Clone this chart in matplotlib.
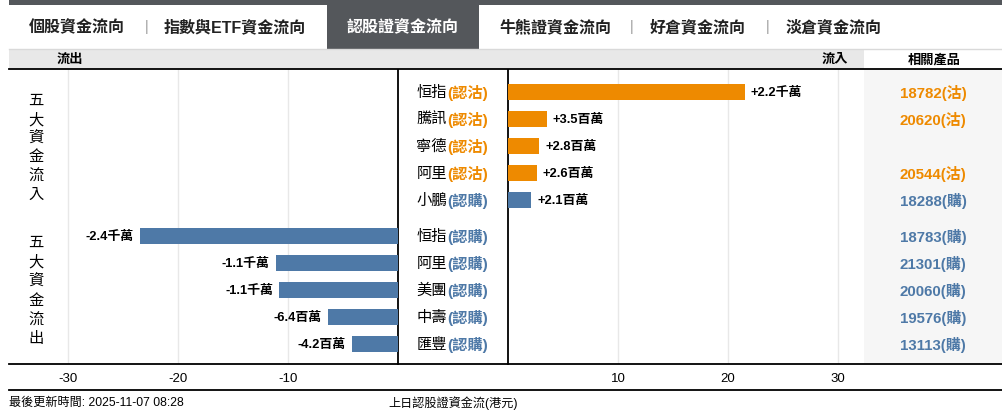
import matplotlib
matplotlib.use('Agg')
import matplotlib.pyplot as plt
from matplotlib.patches import Rectangle
from matplotlib.lines import Line2D
from matplotlib.transforms import blended_transform_factory

plt.rcParams['font.family'] = ['Liberation Sans', 'Noto Sans CJK TC']
plt.rcParams['axes.unicode_minus'] = False

# data (values in millions HKD)
in_names = ['恒指', '騰訊', '寧德', '阿里', '小鵬']
in_types = ['認沽', '認沽', '認沽', '認沽', '認購']
in_values = [21.5, 3.5, 2.8, 2.6, 2.1]
in_labels = ['+2.2千萬', '+3.5百萬', '+2.8百萬', '+2.6百萬', '+2.1百萬']
in_products = ['18782(沽)', '20620(沽)', '', '20544(沽)', '18288(購)']

out_names = ['恒指', '阿里', '美團', '中壽', '匯豐']
out_types = ['認購', '認購', '認購', '認購', '認購']
out_values = [-23.5, -11.1, -10.8, -6.4, -4.2]
out_labels = ['-2.4千萬', '-1.1千萬', '-1.1千萬', '-6.4百萬', '-4.2百萬']
out_products = ['18783(購)', '21301(購)', '20060(購)', '19576(購)', '13113(購)']

tabs = ['個股資金流向', '指數與ETF資金流向', '認股證資金流向', '牛熊證資金流向', '好倉資金流向', '淡倉資金流向']
tab_x = [77, 235, 403, 555, 698, 834]
active_tab = 2

ORANGE = '#ee8a00'
BLUE = '#4e79a7'
type_color = {'認沽': ORANGE, '認購': BLUE}

W, H = 1003, 414
fig = plt.figure(figsize=(W / 100, H / 100), dpi=100)


def px(x):
    return x / W


def py(y):
    return 1 - y / H


def rect(x0, y0, x1, y1, color):
    fig.patches.append(Rectangle((px(x0), py(y1)), px(x1 - x0), (y1 - y0) / H,
                                 transform=fig.transFigure, color=color, lw=0, zorder=0))


def hline(y, x0, x1, color='black', lw=1.3):
    fig.lines.append(Line2D([px(x0), px(x1)], [py(y), py(y)], transform=fig.transFigure,
                            color=color, lw=lw))


# top bar, tabs, header band
rect(9, 0, W, 6, '#54575b')
rect(327, 6, 479, 50, '#54575b')
rect(9, 50, 864, 70, '#e8e8e8')
rect(864, 70, W, 364, '#f6f6f6')
hline(50, 9, W, '#d9d9d9', 1)

for i, t in enumerate(tabs):
    fig.text(px(tab_x[i]), py(27), t, ha='center', va='center', fontsize=11.5, fontweight='bold',
             color='white' if i == active_tab else '#222222')
for sx in [147, 632, 768]:
    fig.text(px(sx), py(27), '|', ha='center', va='center', fontsize=10, color='#999999')

fig.text(px(70), py(60), '流出', ha='center', va='center', fontsize=9.5, fontweight='bold')
fig.text(px(835), py(60), '流入', ha='center', va='center', fontsize=9.5, fontweight='bold')
fig.text(px(934), py(60), '相關產品', ha='center', va='center', fontsize=9.5, fontweight='bold')

# axes
ax_top, ax_bot = 70, 365
unit = 27.0
y_in = list(range(len(in_values)))
y_out = [i + len(in_values) + 1 / 3 for i in range(len(out_values))]
ylim = ((ax_bot - 93) / unit, -(93 - ax_top) / unit)

axl = fig.add_axes([px(9), py(ax_bot), px(398 - 9), (ax_bot - ax_top) / H])
axr = fig.add_axes([px(508), py(ax_bot), px(864 - 508), (ax_bot - ax_top) / H])
axl.set_xlim(-(398 - 9) / 11, 0)
axr.set_xlim(0, (864 - 508) / 11)
axl.set_xticks([-30, -20, -10])
axr.set_xticks([10, 20, 30])

for ax in (axl, axr):
    ax.set_ylim(*ylim)
    ax.set_facecolor('none')
    ax.set_yticks([])
    ax.grid(axis='x', color='#e8e8e8', lw=1)
    ax.set_axisbelow(True)
    ax.tick_params(axis='x', length=0, pad=6, labelsize=9.5)
    for s in ax.spines.values():
        s.set_visible(False)
axl.spines['right'].set_visible(True)
axr.spines['left'].set_visible(True)
axl.spines['right'].set_linewidth(1.3)
axr.spines['left'].set_linewidth(1.3)

bh = 16 / unit
axr.barh(y_in, in_values, height=bh, color=[type_color[t] for t in in_types], zorder=3)
axl.barh(y_out, out_values, height=bh, color=[type_color[t] for t in out_types], zorder=3)

for y, v, lab in zip(y_in, in_values, in_labels):
    axr.annotate(lab, (v, y), xytext=(4.5, 0), textcoords='offset points', ha='left', va='center',
                 fontsize=9.3, fontweight='bold')
for y, v, lab in zip(y_out, out_values, out_labels):
    axl.annotate(lab, (v, y), xytext=(-4.5, 0), textcoords='offset points', ha='right', va='center',
                 fontsize=9.3, fontweight='bold')

# category labels and related products
tr = blended_transform_factory(fig.transFigure, axl.transData)
for ys, names, types, prods in [(y_in, in_names, in_types, in_products),
                                (y_out, out_names, out_types, out_products)]:
    for y, n, t, p in zip(ys, names, types, prods):
        c = type_color[t]
        fig.text(px(447), y, n, transform=tr, ha='right', va='center', fontsize=11)
        fig.text(px(447), y, '(' + t + ')', transform=tr, ha='left', va='center', fontsize=11,
                 fontweight='bold', color=c)
        if p:
            fig.text(px(933), y, p, transform=tr, ha='center', va='center', fontsize=10.8,
                     fontweight='bold', color=c)

# vertical group labels
for i, ch in enumerate('五大資金流入'):
    fig.text(px(36), py(101 + i * 18.8), ch, ha='center', va='center', fontsize=11)
for i, ch in enumerate('五大資金流出'):
    fig.text(px(36), py(243 + i * 19.3), ch, ha='center', va='center', fontsize=11)

hline(70, 9, W)
hline(365, 9, W)
hline(391, 9, W)

fig.text(px(9), py(403), '最後更新時間: 2025-11-07 08:28', ha='left', va='center', fontsize=8.7)
fig.text(px(453), py(403), '上日認股證資金流(港元)', ha='center', va='center', fontsize=8.7)

fig.savefig('out.png', dpi=100)
